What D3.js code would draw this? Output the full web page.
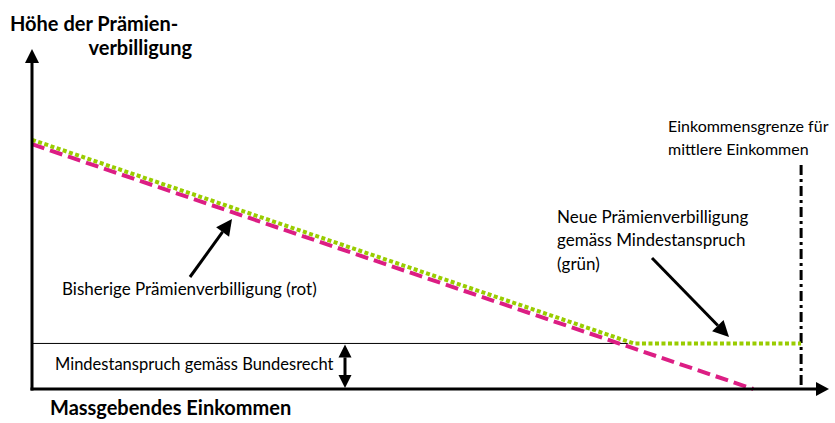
<!DOCTYPE html>
<html>
<head>
<meta charset="utf-8">
<script src="https://cdn.jsdelivr.net/npm/d3@7"></script>
<style>
  body { margin: 0; background: #fff; }
  svg { display: block; font-family: Lato, "Open Sans", sans-serif; }
</style>
</head>
<body>
<div id="anchor-point"></div>
<script>
// schematic: Prämienverbilligung vs. massgebendes Einkommen (values in % of axis)

const bisherigX = [0, 90.5];          // rote Linie
const bisherigY = [72, 0];
const neuX = [0, 75.5, 96.5];         // grüne Linie
const neuY = [73.3, 13.4, 13.4];
const mindestanspruch = 13.4;
const einkommensgrenze = 96.5;

const width = 835, height = 423;
const origin = { x: 32, y: 389 };

const x = d3.scaleLinear().domain([0, 100]).range([origin.x, 829]);
const y = d3.scaleLinear().domain([0, 100]).range([origin.y, 49]);

const svg = d3.select("#anchor-point")
  .append("svg")
  .attr("width", width)
  .attr("height", height);

const line = d3.line().x(d => x(d[0])).y(d => y(d[1]));

// Mindestanspruch line (thin)
svg.append("line")
  .attr("x1", x(0)).attr("x2", x(neuX[1]) - 6)
  .attr("y1", y(mindestanspruch)).attr("y2", y(mindestanspruch))
  .attr("stroke", "#000").attr("stroke-width", 1);

// Einkommensgrenze (dash-dot)
svg.append("line")
  .attr("x1", x(einkommensgrenze)).attr("x2", x(einkommensgrenze))
  .attr("y1", 165).attr("y2", origin.y)
  .attr("stroke", "#000").attr("stroke-width", 3)
  .attr("stroke-dasharray", "10 4 3 4");

// bisherige Prämienverbilligung (rot, dashed)
svg.append("path")
  .attr("d", line(d3.zip(bisherigX, bisherigY)))
  .attr("fill", "none")
  .attr("stroke", "#dc1e84")
  .attr("stroke-width", 4)
  .attr("stroke-dasharray", "13 6");

// neue Prämienverbilligung (grün, dotted)
svg.append("path")
  .attr("d", line(d3.zip(neuX, neuY)))
  .attr("fill", "none")
  .attr("stroke", "#99cc00")
  .attr("stroke-width", 4)
  .attr("stroke-dasharray", "4 2.5");

// axes with arrowheads
const axisColor = "#000";
svg.append("line")
  .attr("x1", origin.x).attr("x2", origin.x)
  .attr("y1", origin.y + 1.5).attr("y2", y(100) + 12)
  .attr("stroke", axisColor).attr("stroke-width", 3);
svg.append("path")
  .attr("d", `M${origin.x},${y(100)} L${origin.x - 7},${y(100) + 14} L${origin.x + 7},${y(100) + 14} Z`)
  .attr("fill", axisColor);

svg.append("line")
  .attr("x1", origin.x - 1.5).attr("x2", x(100) - 12)
  .attr("y1", origin.y).attr("y2", origin.y)
  .attr("stroke", axisColor).attr("stroke-width", 3);
svg.append("path")
  .attr("d", `M${x(100)},${origin.y} L${x(100) - 13},${origin.y - 7} L${x(100) - 13},${origin.y + 7} Z`)
  .attr("fill", axisColor);

// arrow helper
function arrow(x1, y1, x2, y2, head) {
  const a = Math.atan2(y2 - y1, x2 - x1);
  const bx = x2 - head * Math.cos(a), by = y2 - head * Math.sin(a);
  svg.append("line")
    .attr("x1", x1).attr("y1", y1).attr("x2", bx).attr("y2", by)
    .attr("stroke", "#000").attr("stroke-width", 3);
  const w = head * 0.5;
  svg.append("path")
    .attr("d", `M${x2},${y2} L${bx + w * Math.sin(a)},${by - w * Math.cos(a)} L${bx - w * Math.sin(a)},${by + w * Math.cos(a)} Z`)
    .attr("fill", "#000");
}

arrow(190, 277, 232, 219, 16);
arrow(652, 258, 729, 337, 16);
// double arrow for Mindestanspruch
arrow(345, 366, 345, y(mindestanspruch) + 1, 13);
arrow(345, 366, 345, origin.y - 1, 13);

// texts
const texts = [
  { t: "Höhe der Prämien-", x: 10, y: 31, size: 20, w: "bold", a: "start" },
  { t: "verbilligung", x: 192, y: 55, size: 20, w: "bold", a: "end" },
  { t: "Massgebendes Einkommen", x: 50, y: 415, size: 20, w: "bold", a: "start" },
  { t: "Einkommensgrenze für", x: 668, y: 132, size: 16, w: "normal", a: "start" },
  { t: "mittlere Einkommen", x: 668, y: 155, size: 16, w: "normal", a: "start" },
  { t: "Neue Prämienverbilligung", x: 557, y: 223, size: 17, w: "normal", a: "start" },
  { t: "gemäss Mindestanspruch", x: 557, y: 246, size: 17, w: "normal", a: "start" },
  { t: "(grün)", x: 557, y: 270, size: 17, w: "normal", a: "start" },
  { t: "Bisherige Prämienverbilligung (rot)", x: 62, y: 295, size: 17, w: "normal", a: "start" },
  { t: "Mindestanspruch gemäss Bundesrecht", x: 55, y: 370, size: 16.5, w: "normal", a: "start" }
];

svg.selectAll(".label")
  .data(texts)
  .enter()
  .append("text")
  .attr("class", "label")
  .attr("x", d => d.x)
  .attr("y", d => d.y)
  .attr("font-size", d => d.size)
  .attr("font-weight", d => d.w)
  .attr("text-anchor", d => d.a)
  .attr("fill", "#000")
  .text(d => d.t);
</script>
</body>
</html>
